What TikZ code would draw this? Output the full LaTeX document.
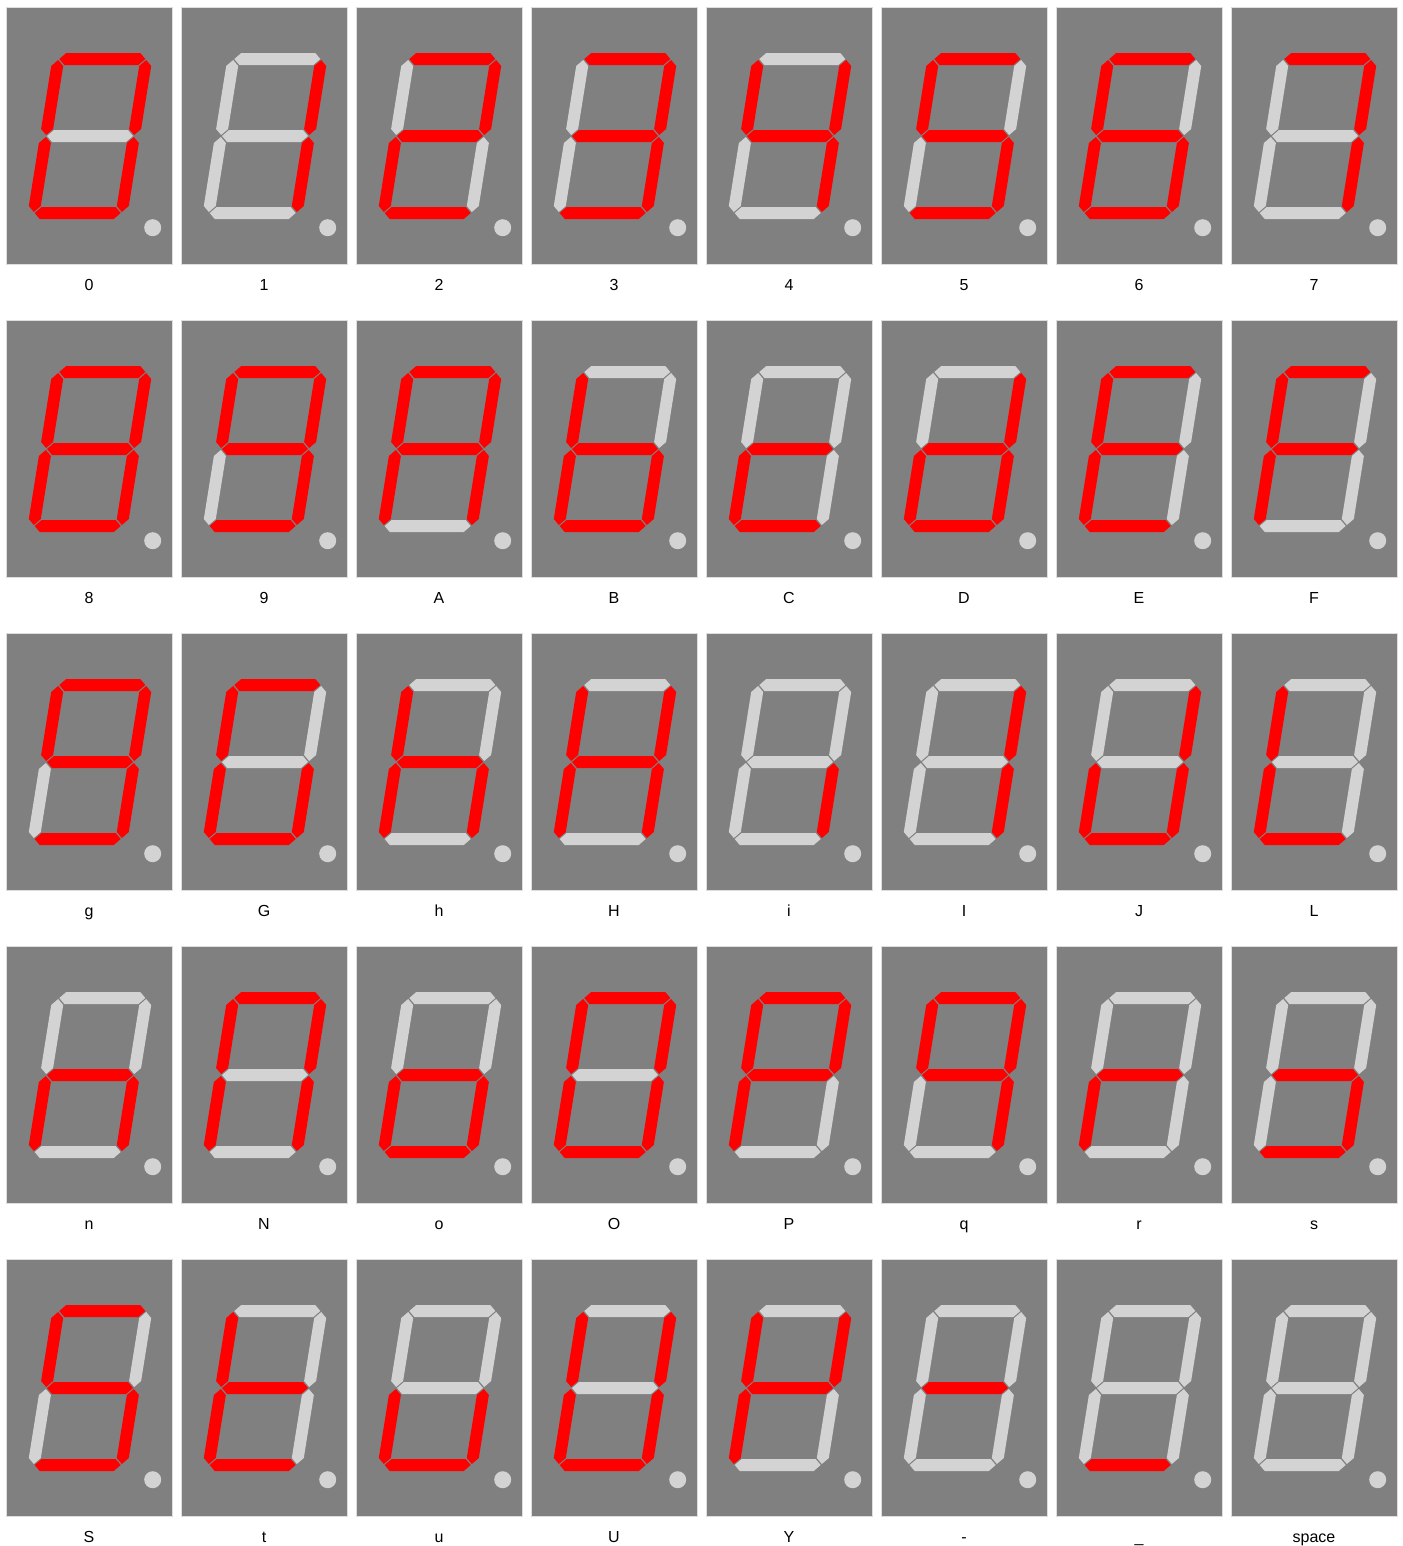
\documentclass[tikz,border=0pt]{standalone}
\usepackage{fontspec}
\setmainfont{Liberation Sans}
\definecolor{panelgray}{RGB}{128,128,128}
\definecolor{panelrim}{RGB}{222,222,222}
\definecolor{segon}{RGB}{255,0,0}
\definecolor{segoff}{RGB}{211,211,211}
\tikzset{
    panel/.style={
        rectangle,
        draw=panelrim,
        fill=panelgray,
        line width=0.75pt,
        minimum width=124.5pt,
        minimum height=192.75pt,
        inner sep=0pt,
        outer sep=0pt
    },
    lit/.style={fill=segon},
    unlit/.style={fill=segoff},
    dp/.style={fill=segoff},
    charlabel/.style={
        font=\fontsize{12}{14}\selectfont,
        text=black,
        anchor=base,
        inner sep=0pt
    }
}
% segment outlines, centred on the middle bar, before slanting
\newcommand{\sevsega}{(-43,77) -- (-37,83) -- (37,83) -- (43,77) -- (37,71) -- (-37,71) -- cycle}
\newcommand{\sevsegb}{(44,76) -- (50,70) -- (50,7) -- (44,1) -- (38,7) -- (38,70) -- cycle}
\newcommand{\sevsegc}{(44,-1) -- (50,-7) -- (50,-70) -- (44,-76) -- (38,-70) -- (38,-7) -- cycle}
\newcommand{\sevsegd}{(-43,-77) -- (-37,-71) -- (37,-71) -- (43,-77) -- (37,-83) -- (-37,-83) -- cycle}
\newcommand{\sevsege}{(-44,-1) -- (-38,-7) -- (-38,-70) -- (-44,-76) -- (-50,-70) -- (-50,-7) -- cycle}
\newcommand{\sevsegf}{(-44,76) -- (-38,70) -- (-38,7) -- (-44,1) -- (-50,7) -- (-50,70) -- cycle}
\newcommand{\sevsegg}{(-43,0) -- (-37,6) -- (37,6) -- (43,0) -- (37,-6) -- (-37,-6) -- cycle}
\makeatletter
% #1 column, #2 row, #3 lit segments, #4 label
\newcommand{\charpanel}[4]{%
    \pgfmathsetmacro{\pnlx}{6+175*#1}%
    \pgfmathsetmacro{\pnly}{7+313*#2}%
    \node[panel, anchor=north west] (panel#1#2) at (\pnlx,-\pnly) {};
    \begin{scope}[shift={(\pnlx+84,-\pnly-129)}, xslant=0.16]
        \foreach \s in {a,b,c,d,e,f,g} {
            \edef\segtest{\noexpand\in@{,\s,}{,#3,}}\segtest
            \ifin@
                \fill[lit] \csname sevseg\s\endcsname;
            \else
                \fill[unlit] \csname sevseg\s\endcsname;
            \fi
        }
    \end{scope}
    \fill[dp] (\pnlx+146.7,-\pnly-220.7) circle[radius=8.5];
    \node[charlabel] (label#1#2) at (\pnlx+83,-\pnly-283) {#4};
}
\makeatother
\begin{document}
\begin{tikzpicture}[x=0.75pt, y=0.75pt]
\useasboundingbox (0,0) rectangle (1403,-1546);

% Row 1: digits
\charpanel{0}{0}{a,b,c,d,e,f}{0}
\charpanel{1}{0}{b,c}{1}
\charpanel{2}{0}{a,b,d,e,g}{2}
\charpanel{3}{0}{a,b,c,d,g}{3}
\charpanel{4}{0}{b,c,f,g}{4}
\charpanel{5}{0}{a,c,d,f,g}{5}
\charpanel{6}{0}{a,c,d,e,f,g}{6}
\charpanel{7}{0}{a,b,c}{7}

% Row 2
\charpanel{0}{1}{a,b,c,d,e,f,g}{8}
\charpanel{1}{1}{a,b,c,d,f,g}{9}
\charpanel{2}{1}{a,b,c,e,f,g}{A}
\charpanel{3}{1}{c,d,e,f,g}{B}
\charpanel{4}{1}{d,e,g}{C}
\charpanel{5}{1}{b,c,d,e,g}{D}
\charpanel{6}{1}{a,d,e,f,g}{E}
\charpanel{7}{1}{a,e,f,g}{F}

% Row 3
\charpanel{0}{2}{a,b,c,d,f,g}{g}
\charpanel{1}{2}{a,c,d,e,f}{G}
\charpanel{2}{2}{c,e,f,g}{h}
\charpanel{3}{2}{b,c,e,f,g}{H}
\charpanel{4}{2}{c}{i}
\charpanel{5}{2}{b,c}{I}
\charpanel{6}{2}{b,c,d,e}{J}
\charpanel{7}{2}{d,e,f}{L}

% Row 4
\charpanel{0}{3}{c,e,g}{n}
\charpanel{1}{3}{a,b,c,e,f}{N}
\charpanel{2}{3}{c,d,e,g}{o}
\charpanel{3}{3}{a,b,c,d,e,f}{O}
\charpanel{4}{3}{a,b,e,f,g}{P}
\charpanel{5}{3}{a,b,c,f,g}{q}
\charpanel{6}{3}{e,g}{r}
\charpanel{7}{3}{c,d,g}{s}

% Row 5
\charpanel{0}{4}{a,c,d,f,g}{S}
\charpanel{1}{4}{d,e,f,g}{t}
\charpanel{2}{4}{c,d,e}{u}
\charpanel{3}{4}{b,c,d,e,f}{U}
\charpanel{4}{4}{b,e,f,g}{Y}
\charpanel{5}{4}{g}{-}
\charpanel{6}{4}{d}{\_}
\charpanel{7}{4}{}{space}

\end{tikzpicture}
\end{document}
